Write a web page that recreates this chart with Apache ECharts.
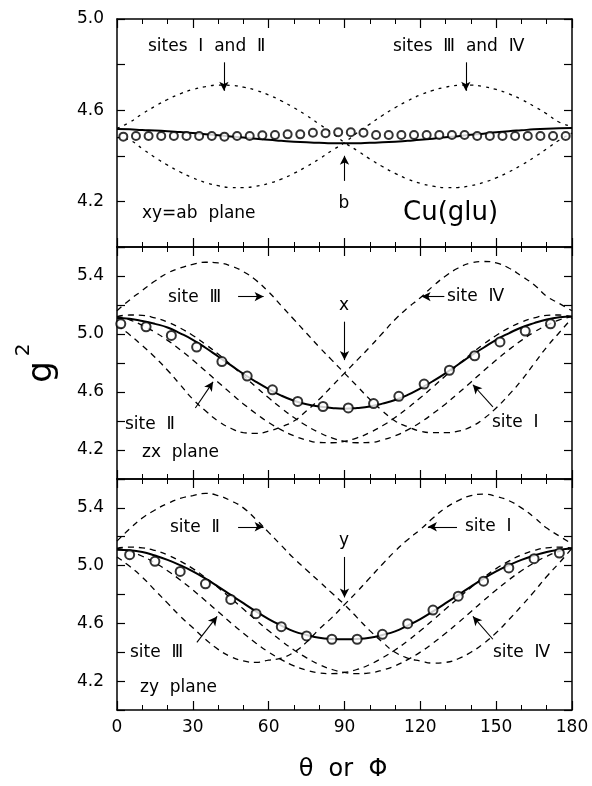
<!DOCTYPE html>
<html>
<head>
<meta charset="utf-8">
<script src="https://cdn.jsdelivr.net/npm/echarts/dist/echarts.min.js"></script>
<style>
  html, body { margin: 0; padding: 0; background: #fff; }
  #chart { width: 592px; height: 786px; }
</style>
</head>
<body>
<div id="chart"></div>
<script>
// angles (deg) where the curves are read, every 5 degrees
const angles = [0, 5, 10, 15, 20, 25, 30, 35, 40, 45, 50, 55, 60, 65, 70, 75, 80, 85, 90,
  95, 100, 105, 110, 115, 120, 125, 130, 135, 140, 145, 150, 155, 160, 165, 170, 175, 180];

// xy = ab plane
const topSolid = [4.517, 4.516, 4.513, 4.511, 4.508, 4.504, 4.500, 4.495, 4.490, 4.485, 4.480, 4.475, 4.470, 4.466, 4.462, 4.459, 4.457, 4.455, 4.455,
  4.455, 4.457, 4.459, 4.462, 4.466, 4.470, 4.475, 4.481, 4.486, 4.492, 4.497, 4.503, 4.508, 4.512, 4.516, 4.519, 4.521, 4.522];
const topSites12 = [4.52, 4.547, 4.584, 4.617, 4.647, 4.672, 4.691, 4.703, 4.710, 4.709, 4.701, 4.687, 4.667, 4.641, 4.611, 4.577, 4.539, 4.501, 4.458,
  4.423, 4.386, 4.353, 4.323, 4.298, 4.279, 4.267, 4.260, 4.261, 4.269, 4.283, 4.303, 4.329, 4.359, 4.393, 4.431, 4.469, 4.50];
const topSites34 = [4.48, 4.469, 4.431, 4.393, 4.359, 4.329, 4.303, 4.283, 4.269, 4.261, 4.260, 4.267, 4.279, 4.298, 4.323, 4.353, 4.386, 4.423, 4.458,
  4.501, 4.539, 4.577, 4.611, 4.641, 4.667, 4.687, 4.701, 4.709, 4.710, 4.703, 4.691, 4.672, 4.647, 4.617, 4.584, 4.547, 4.53];
const topCircleAngles = [2.5, 7.5, 12.5, 17.5, 22.5, 27.5, 32.5, 37.5, 42.5, 47.5, 52.5, 57.5, 62.5, 67.5, 72.5, 77.5, 82.5, 87.5,
  92.5, 97.5, 102.5, 107.5, 112.5, 117.5, 122.5, 127.5, 132.5, 137.5, 142.5, 147.5, 152.5, 157.5, 162.5, 167.5, 172.5, 177.5];
const topCircles = [4.484, 4.487, 4.487, 4.487, 4.487, 4.487, 4.487, 4.487, 4.484, 4.487, 4.487, 4.490, 4.491, 4.494, 4.494, 4.501, 4.499, 4.503,
  4.503, 4.501, 4.491, 4.491, 4.491, 4.491, 4.491, 4.491, 4.491, 4.491, 4.487, 4.487, 4.487, 4.487, 4.487, 4.487, 4.487, 4.487];

// zx plane
const midSolid = [5.11, 5.105, 5.09, 5.07, 5.045, 5.005, 4.96, 4.905, 4.845, 4.785, 4.725, 4.67, 4.62, 4.575, 4.54, 4.515, 4.50, 4.49, 4.485,
  4.49, 4.50, 4.52, 4.545, 4.58, 4.625, 4.675, 4.73, 4.79, 4.85, 4.905, 4.96, 5.005, 5.045, 5.075, 5.10, 5.115, 5.12];
const midSite1 = [5.12, 5.131, 5.128, 5.111, 5.082, 5.041, 4.99, 4.929, 4.862, 4.788, 4.712, 4.635, 4.56, 4.489, 4.424, 4.367, 4.32, 4.284, 4.26,
  4.25, 4.252, 4.269, 4.298, 4.339, 4.39, 4.451, 4.518, 4.592, 4.668, 4.745, 4.82, 4.891, 4.956, 5.013, 5.06, 5.097, 5.12];
const midSite2 = [5.12, 5.097, 5.06, 5.013, 4.956, 4.891, 4.82, 4.745, 4.668, 4.592, 4.518, 4.451, 4.39, 4.339, 4.298, 4.269, 4.252, 4.25, 4.26,
  4.284, 4.32, 4.367, 4.424, 4.489, 4.56, 4.635, 4.712, 4.788, 4.862, 4.929, 4.99, 5.041, 5.082, 5.111, 5.128, 5.131, 5.12];
const midSite3 = [5.16, 5.235, 5.30, 5.365, 5.42, 5.455, 5.48, 5.495, 5.49, 5.47, 5.43, 5.37, 5.29, 5.195, 5.10, 5.005, 4.91, 4.82, 4.73,
  4.64, 4.55, 4.47, 4.40, 4.36, 4.33, 4.32, 4.32, 4.33, 4.36, 4.415, 4.49, 4.58, 4.68, 4.795, 4.91, 5.01, 5.11];
const midSite4 = [5.06, 4.995, 4.92, 4.84, 4.75, 4.65, 4.55, 4.47, 4.40, 4.35, 4.32, 4.315, 4.33, 4.36, 4.40, 4.47, 4.55, 4.64, 4.73,
  4.82, 4.91, 5.005, 5.10, 5.18, 5.25, 5.33, 5.40, 5.455, 5.49, 5.50, 5.49, 5.455, 5.40, 5.34, 5.26, 5.21, 5.16];
const midCircleAngles = [1.5, 11.5, 21.5, 31.5, 41.5, 51.5, 61.5, 71.5, 81.5, 91.5, 101.5, 111.5, 121.5, 131.5, 141.5, 151.5, 161.5, 171.5];
const midCircles = [5.07, 5.05, 4.99, 4.91, 4.81, 4.71, 4.615, 4.535, 4.50, 4.49, 4.52, 4.57, 4.655, 4.75, 4.85, 4.945, 5.02, 5.07];

// zy plane
const botSolid = [5.11, 5.107, 5.095, 5.07, 5.04, 5.003, 4.96, 4.91, 4.855, 4.797, 4.74, 4.683, 4.63, 4.585, 4.545, 4.52, 4.50, 4.492, 4.49,
  4.492, 4.50, 4.52, 4.545, 4.585, 4.63, 4.683, 4.74, 4.797, 4.855, 4.91, 4.96, 5.003, 5.04, 5.07, 5.095, 5.11, 5.12];
const botSite1 = [5.06, 4.995, 4.92, 4.83, 4.74, 4.65, 4.57, 4.49, 4.42, 4.37, 4.34, 4.33, 4.345, 4.36, 4.40, 4.47, 4.56, 4.64, 4.73,
  4.82, 4.915, 5.01, 5.10, 5.18, 5.25, 5.33, 5.40, 5.45, 5.485, 5.495, 5.48, 5.45, 5.40, 5.335, 5.26, 5.205, 5.15];
const botSite2 = [5.17, 5.255, 5.33, 5.385, 5.43, 5.465, 5.485, 5.50, 5.485, 5.45, 5.40, 5.32, 5.23, 5.14, 5.05, 4.97, 4.89, 4.81, 4.73,
  4.64, 4.55, 4.47, 4.40, 4.36, 4.34, 4.325, 4.33, 4.355, 4.40, 4.46, 4.535, 4.625, 4.72, 4.82, 4.925, 5.02, 5.12];
const botSite3 = [5.12, 5.099, 5.065, 5.019, 4.964, 4.901, 4.831, 4.757, 4.681, 4.605, 4.532, 4.463, 4.401, 4.349, 4.306, 4.276, 4.257, 4.252, 4.26,
  4.281, 4.315, 4.361, 4.416, 4.479, 4.549, 4.623, 4.699, 4.775, 4.848, 4.917, 4.979, 5.031, 5.074, 5.105, 5.123, 5.128, 5.12];
const botSite4 = [5.12, 5.128, 5.123, 5.105, 5.074, 5.031, 4.979, 4.917, 4.848, 4.775, 4.699, 4.623, 4.549, 4.479, 4.416, 4.361, 4.315, 4.281, 4.26,
  4.252, 4.257, 4.276, 4.306, 4.349, 4.401, 4.463, 4.532, 4.605, 4.681, 4.757, 4.831, 4.901, 4.964, 5.019, 5.065, 5.099, 5.12];
const botCircleAngles = [5, 15, 25, 35, 45, 55, 65, 75, 85, 95, 105, 115, 125, 135, 145, 155, 165, 175];
const botCircles = [5.076, 5.03, 4.96, 4.874, 4.766, 4.667, 4.577, 4.513, 4.49, 4.49, 4.524, 4.598, 4.692, 4.788, 4.892, 4.984, 5.048, 5.087];

// labelled values on the g^2 axes
const topYLabels = [4.2, 4.6, 5.0];
const sideYLabels = [4.2, 4.6, 5.0, 5.4];

const ink = '#000';
const font = '"DejaVu Sans", sans-serif';

let chart = echarts.init(document.getElementById('chart'));

function pairs(xs, ys) {
  return xs.map((x, i) => [x, ys[i]]);
}

// tick-only x axis
function xTicks(gi, pos) {
  return {
    type: 'value', gridIndex: gi, position: pos, min: 0, max: 180, interval: 30,
    axisLine: { show: true, onZero: false, lineStyle: { color: ink, width: 1.5 } },
    axisTick: { show: true, lineStyle: { color: ink, width: 1.2 }, inside: true, length: 9 },
    minorTick: { show: true, splitNumber: 3, lineStyle: { color: ink }, length: 5 },
    axisLabel: { show: false, fontSize: 10 },
    splitLine: { show: false }
  };
}

// label-only x axis under the last panel
function xLabels(gi) {
  return {
    type: 'value', gridIndex: gi, position: 'bottom', min: 0, max: 180, interval: 30,
    axisLine: { show: false, onZero: false },
    axisTick: { show: false },
    minorTick: { show: false },
    splitLine: { show: false },
    axisLabel: { show: true, color: ink, fontSize: 17, fontFamily: font, margin: 9 }
  };
}

// tick-only y axis
function yTicks(gi, pos, max) {
  return {
    type: 'value', gridIndex: gi, position: pos, min: 4.0, max: max, interval: 0.2,
    axisLine: { show: true, onZero: false, lineStyle: { color: ink, width: 1.5 } },
    axisTick: { show: true, lineStyle: { color: ink, width: 1.2 }, inside: true, length: 8 },
    axisLabel: { show: false, fontSize: 10 },
    splitLine: { show: false }
  };
}

// label-only y axis
function yLabels(gi, max, values) {
  return {
    type: 'value', gridIndex: gi, position: 'left', min: 4.0, max: max,
    axisLine: { show: false },
    axisTick: { show: false },
    splitLine: { show: false },
    axisLabel: {
      color: ink, fontSize: 17, fontFamily: font, margin: 13,
      customValues: values,
      formatter: v => Number(v).toFixed(1)
    }
  };
}

function solid(gi, ys, arrows) {
  return {
    type: 'line', xAxisIndex: gi * 2, yAxisIndex: gi * 3, data: pairs(angles, ys),
    smooth: 0.5, showSymbol: false, z: 4,
    lineStyle: { color: ink, width: 2 },
    markLine: {
      silent: true, symbol: ['none', 'arrow'], symbolSize: [7, 9], precision: 3,
      label: { show: false },
      lineStyle: { type: 'solid', color: ink, width: 1.1 },
      data: arrows.map(a => [{ coord: a[0] }, { coord: a[1] }])
    }
  };
}

function dashed(gi, ys, dash) {
  return {
    type: 'line', xAxisIndex: gi * 2, yAxisIndex: gi * 3, data: pairs(angles, ys),
    smooth: 0.5, showSymbol: false, z: 3,
    lineStyle: { color: ink, width: 1.3, type: dash }
  };
}

function circles(gi, xs, ys, size) {
  return {
    type: 'scatter', xAxisIndex: gi * 2, yAxisIndex: gi * 3, data: pairs(xs, ys),
    symbol: 'emptyCircle', symbolSize: size, z: 5,
    itemStyle: { color: ink, borderColor: ink, borderWidth: 1.3 }
  };
}

let topArrows = [
  [[42.3, 4.81], [42.3, 4.685]],
  [[138, 4.81], [138, 4.685]],
  [[90, 4.29], [90, 4.40]]
];
let midArrows = [
  [[47.9, 5.258], [58, 5.258]],
  [[90, 5.085], [90, 4.82]],
  [[129.5, 5.258], [120.5, 5.258]],
  [[31, 4.49], [38, 4.67]],
  [[148.7, 4.498], [140.8, 4.65]]
];
let botArrows = [
  [[47.9, 5.269], [58, 5.269]],
  [[90, 5.06], [90, 4.78]],
  [[134.5, 5.269], [123, 5.269]],
  [[31.6, 4.469], [39.6, 4.648]],
  [[148.7, 4.49], [140.8, 4.648]]
];

function label(text, x, y, size, align) {
  return {
    type: 'text', x: x, y: y, silent: true,
    style: { text: text, fill: ink, font: size + 'px ' + font, align: align || 'left', verticalAlign: 'middle' }
  };
}

let option = {
  animation: false,
  backgroundColor: '#fff',
  grid: [
    { left: 117, right: 20, top: 19, height: 228 },
    { left: 117, right: 20, top: 247, height: 232 },
    { left: 117, right: 20, top: 479, height: 231 }
  ],
  xAxis: [
    xTicks(0, 'bottom'), xTicks(0, 'top'),
    xTicks(1, 'bottom'), xTicks(1, 'top'),
    xTicks(2, 'bottom'), xTicks(2, 'top'),
    xLabels(2)
  ],
  yAxis: [
    yTicks(0, 'left', 5.0), yTicks(0, 'right', 5.0), yLabels(0, 5.0, topYLabels),
    yTicks(1, 'left', 5.6), yTicks(1, 'right', 5.6), yLabels(1, 5.6, sideYLabels),
    yTicks(2, 'left', 5.6), yTicks(2, 'right', 5.6), yLabels(2, 5.6, sideYLabels)
  ],
  series: [
    dashed(0, topSites12, [3, 5]),
    dashed(0, topSites34, [3, 5]),
    solid(0, topSolid, topArrows),
    circles(0, topCircleAngles, topCircles, 8),

    dashed(1, midSite1, [6, 5]),
    dashed(1, midSite2, [6, 5]),
    dashed(1, midSite3, [6, 5]),
    dashed(1, midSite4, [6, 5]),
    solid(1, midSolid, midArrows),
    circles(1, midCircleAngles, midCircles, 9),

    dashed(2, botSite1, [6, 5]),
    dashed(2, botSite2, [6, 5]),
    dashed(2, botSite3, [6, 5]),
    dashed(2, botSite4, [6, 5]),
    solid(2, botSolid, botArrows),
    circles(2, botCircleAngles, botCircles, 9)
  ],
  graphic: [
    label('sites  Ⅰ  and  Ⅱ', 148, 47, 17),
    label('sites  Ⅲ  and  Ⅳ', 393, 47, 17),
    label('b', 344, 204, 17, 'center'),
    label('xy=ab  plane', 142, 214, 17),
    label('Cu(glu)', 403, 213, 26),

    label('site  Ⅲ', 168, 298, 17),
    label('x', 344, 306, 17, 'center'),
    label('site  Ⅳ', 447, 297, 17),
    label('site  Ⅱ', 125, 425, 17),
    label('site  Ⅰ', 492, 423, 17),
    label('zx  plane', 142, 453, 17),

    label('site  Ⅱ', 170, 528, 17),
    label('y', 344, 541, 17, 'center'),
    label('site  Ⅰ', 465, 527, 17),
    label('site  Ⅲ', 130, 653, 17),
    label('site  Ⅳ', 493, 653, 17),
    label('zy  plane', 140, 688, 17),

    label('θ  or  Φ', 343, 770, 24, 'center'),
    {
      type: 'text', x: 42, y: 372, rotation: Math.PI / 2, silent: true,
      style: { text: 'g', fill: ink, font: '34px ' + font, align: 'center', verticalAlign: 'middle' }
    },
    {
      type: 'text', x: 24, y: 350, rotation: Math.PI / 2, silent: true,
      style: { text: '2', fill: ink, font: '20px ' + font, align: 'center', verticalAlign: 'middle' }
    }
  ]
};

chart.setOption(option);
</script>
</body>
</html>
